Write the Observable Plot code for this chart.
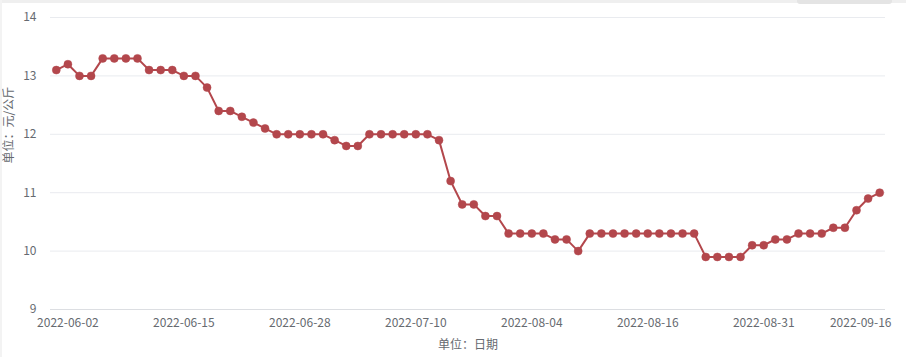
<!DOCTYPE html>
<html>
<head>
<meta charset="utf-8">
<script src="https://cdn.jsdelivr.net/npm/d3@7"></script>
<script src="https://cdn.jsdelivr.net/npm/@observablehq/plot@0.6"></script>
<style>
  html, body { margin: 0; padding: 0; background: #fff; }
  #wrap { position: relative; width: 906px; height: 357px; overflow: hidden; }
  .edge { position: absolute; background: #efefef; }
</style>
</head>
<body>
<div id="wrap">
  <div id="chart"></div>
  <div class="edge" style="left:0;top:0;width:906px;height:3px;"></div>
  <div class="edge" style="left:0;top:0;width:2px;height:357px;background:#f3f3f3;"></div>
  <div class="edge" style="left:797px;top:0;width:95px;height:4px;background:#e4e4e4;border-radius:0 0 3px 3px;"></div>
</div>
<script>
// Price series (元/公斤), one value per category on the x axis
const prices = [
  13.1, 13.2, 13.0, 13.0, 13.3, 13.3, 13.3, 13.3, 13.1, 13.1,
  13.1, 13.0, 13.0, 12.8, 12.4, 12.4, 12.3, 12.2, 12.1, 12.0,
  12.0, 12.0, 12.0, 12.0, 11.9, 11.8, 11.8, 12.0, 12.0, 12.0,
  12.0, 12.0, 12.0, 11.9, 11.2, 10.8, 10.8, 10.6, 10.6, 10.3,
  10.3, 10.3, 10.3, 10.2, 10.2, 10.0, 10.3, 10.3, 10.3, 10.3,
  10.3, 10.3, 10.3, 10.3, 10.3, 10.3, 9.9, 9.9, 9.9, 9.9,
  10.1, 10.1, 10.2, 10.2, 10.3, 10.3, 10.3, 10.4, 10.4, 10.7,
  10.9, 11.0
];
// Category positions that carry a visible date label
const tickIndex = [1, 11, 21, 31, 41, 51, 61, 71];
const tickLabels = ["2022-06-02", "2022-06-15", "2022-06-28", "2022-07-10",
                    "2022-08-04", "2022-08-16", "2022-08-31", "2022-09-16"];
const yTicks = [9, 10, 11, 12, 13, 14];
const yTitle = "单位：元/公斤";
const xTitle = "单位：日期";

const idx = prices.map((d, i) => i);
const lineColor = "#b3474c";
const textColor = "#666a70";
const fmt = i => tickLabels[tickIndex.indexOf(i)];

const chart = Plot.plot({
  width: 906,
  height: 357,
  marginLeft: 50,
  marginRight: 21,
  marginTop: 17,
  marginBottom: 48,
  style: { fontFamily: "'Noto Sans CJK SC', 'Noto Sans', sans-serif", fontSize: "12px", color: textColor, background: "#fff" },
  x: { type: "point", domain: idx, padding: 0.5 },
  y: { domain: [9, 14] },
  marks: [
    Plot.gridY(yTicks, { stroke: "#e9ebef", strokeOpacity: 1 }),
    Plot.ruleY([9], { stroke: "#dcdee2" }),
    Plot.axisY({ ticks: yTicks, tickFormat: d3.format("d"), tickSize: 0, tickPadding: 14, label: null, fill: textColor }),
    Plot.axisX({ ticks: tickIndex.slice(0, -1), tickFormat: fmt, tickSize: 0, tickPadding: 9, label: null, fill: textColor }),
    Plot.axisX({ ticks: tickIndex.slice(-1), tickFormat: fmt, tickSize: 0, tickPadding: 9, label: null, fill: textColor, dx: -19 }),
    Plot.text([yTitle], { frameAnchor: "left", rotate: -90, dx: -41, fill: textColor, fontSize: 12 }),
    Plot.text([xTitle], { frameAnchor: "bottom", dy: 39, fill: textColor, fontSize: 12 }),
    Plot.line(prices, { x: (d, i) => i, y: d => d, stroke: lineColor, strokeWidth: 2 }),
    Plot.dot(prices, { x: (d, i) => i, y: d => d, r: 4, fill: lineColor, stroke: lineColor, strokeWidth: 0.5 })
  ]
});
document.getElementById("chart").appendChild(chart);
</script>
</body>
</html>
